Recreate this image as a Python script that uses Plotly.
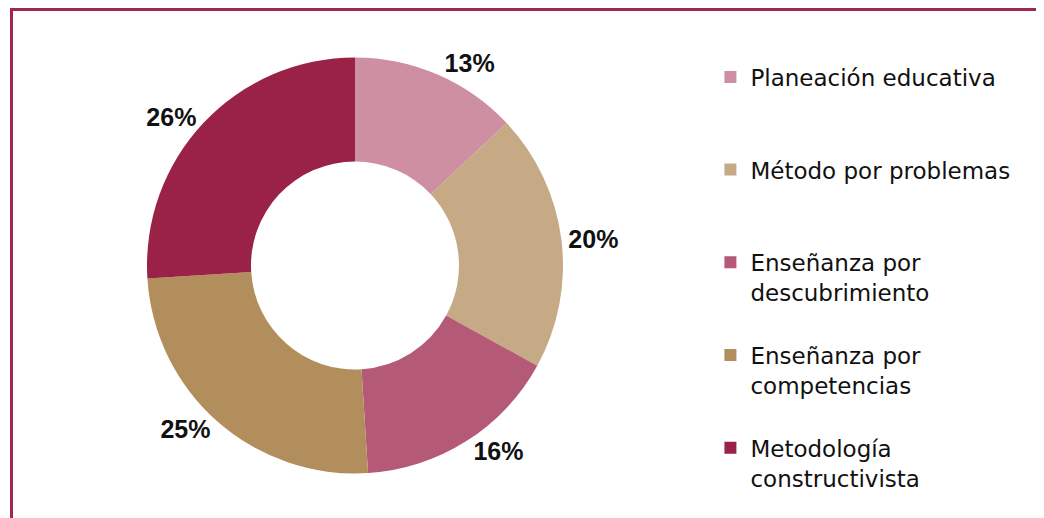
import plotly.graph_objects as go

labels = ["Planeación educativa", "Método por problemas", "Enseñanza por descubrimiento",
          "Enseñanza por competencias", "Metodología constructivista"]
legend_labels = ["Planeación educativa<br> <br> ", "Método por problemas<br> <br> ",
                 "Enseñanza por<br>descubrimiento<br> ", "Enseñanza por<br>competencias<br> ",
                 "Metodología<br>constructivista"]
values = [13, 20, 16, 25, 26]
colors = ["#ce8fa3", "#c6a985", "#b45a76", "#b38e5d", "#9b2247"]

W, H = 1036, 510
cx, cy, r = 347, 257.5, 208

fig = go.Figure(go.Pie(
    labels=legend_labels, values=values, hole=0.5, sort=False, direction="clockwise",
    rotation=0, marker=dict(colors=colors, line=dict(width=0)),
    texttemplate="<b>%{value}%</b>", textposition="outside",
    textfont=dict(family="Liberation Sans, Arial", size=25, color="#111111"),
    domain=dict(x=[(cx - r) / W, (cx + r) / W], y=[(H - cy - r) / H, (H - cy + r) / H]),
    hoverinfo="label+percent",
))

fig.update_layout(
    width=W, height=H, margin=dict(l=0, r=0, t=0, b=0),
    paper_bgcolor="white", plot_bgcolor="white",
    legend=dict(x=0.678, y=0.907, xanchor="left", yanchor="top", valign="top",
                font=dict(family="DejaVu Sans", size=23, color="#111111"),
                itemsizing="constant", itemwidth=30, tracegroupgap=0),
    shapes=[dict(type="rect", xref="paper", yref="paper",
                 x0=3.5 / W, x1=1033 / W, y0=-0.1, y1=(H - 1.5) / H,
                 line=dict(color="#a0284a", width=3), fillcolor="rgba(0,0,0,0)")],
)

fig.write_html("out.html")
